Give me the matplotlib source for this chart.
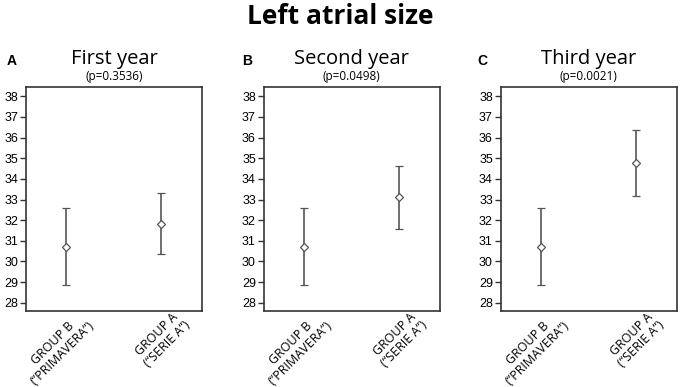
import matplotlib
matplotlib.use("Agg")
import matplotlib.pyplot as plt
from matplotlib.transforms import ScaledTranslation

main_title = "Left atrial size"
panel_letters = ["A", "B", "C"]
panel_titles = ["First year", "Second year", "Third year"]
p_values = ["(p=0.3536)", "(p=0.0498)", "(p=0.0021)"]
groups = ["GROUP B\n(“PRIMAVERA”)", "GROUP A\n(“SERIE A”)"]
yticks = list(range(28, 39))

# per panel: [group B, group A]
means = [[30.71, 31.81], [30.71, 33.11], [30.71, 34.75]]
lower = [[28.87, 30.34], [28.87, 31.57], [28.87, 33.19]]
upper = [[32.58, 33.30], [32.58, 34.63], [32.58, 36.37]]

fig = plt.figure(figsize=(6.8, 3.87), dpi=100)
fig.text(0.5, 1 - 3 / 387, main_title, ha="center", va="top", fontsize=19,
         fontweight="bold", family="Open Sans")

lefts = [26, 263.5, 500.5]
letter_x = [11.5, 247, 482.5]
W, H = 680.0, 387.0
ax_top, ax_bot, ax_w = 87, 311, 176
grey = "#555555"

for i in range(3):
    ax = fig.add_axes([lefts[i] / W, 1 - ax_bot / H, ax_w / W, (ax_bot - ax_top) / H])
    x = [0, 1]
    m = means[i]
    yerr = [[m[k] - lower[i][k] for k in range(2)], [upper[i][k] - m[k] for k in range(2)]]
    ax.errorbar(x, m, yerr=yerr, fmt="D", color=grey, ecolor=grey, elinewidth=1.2,
                capsize=3, capthick=1.2, markersize=4, markerfacecolor="white",
                markeredgecolor=grey, markeredgewidth=0.9)
    ax.set_xlim(-0.42, 1.425)
    ax.set_ylim(27.6, 38.45)
    ax.set_yticks(yticks)
    ax.set_yticklabels([str(t) for t in yticks], family="Liberation Sans", fontsize=9)
    ax.tick_params(axis="y", length=4, width=1, color="#333333", pad=1.5)
    ax.set_xticks(x)
    ax.set_xticklabels(groups, rotation=45, ha="right", va="top", rotation_mode="anchor",
                       multialignment="center", family="Open Sans", fontsize=9,
                       linespacing=1.05)
    ax.tick_params(axis="x", length=0, pad=0)
    off = ScaledTranslation(12 / 100, 2 / 100, fig.dpi_scale_trans)
    for lab in ax.get_xticklabels():
        lab.set_transform(lab.get_transform() + off)
    for s in ax.spines.values():
        s.set_color("#333333")
        s.set_linewidth(1.2)
    ax.set_title(panel_titles[i], fontsize=14.5, family="Open Sans", pad=16.5)
    ax.annotate(p_values[i], xy=(0.5, 1.0), xycoords="axes fraction",
                xytext=(0, 5), textcoords="offset points", ha="center", va="baseline",
                fontsize=8.5, family="Open Sans")
    fig.text(letter_x[i] / W, 1 - 61 / H, panel_letters[i], ha="center", va="center",
             fontsize=10, fontweight="bold", family="Liberation Sans")

fig.savefig("out.png", dpi=100)
